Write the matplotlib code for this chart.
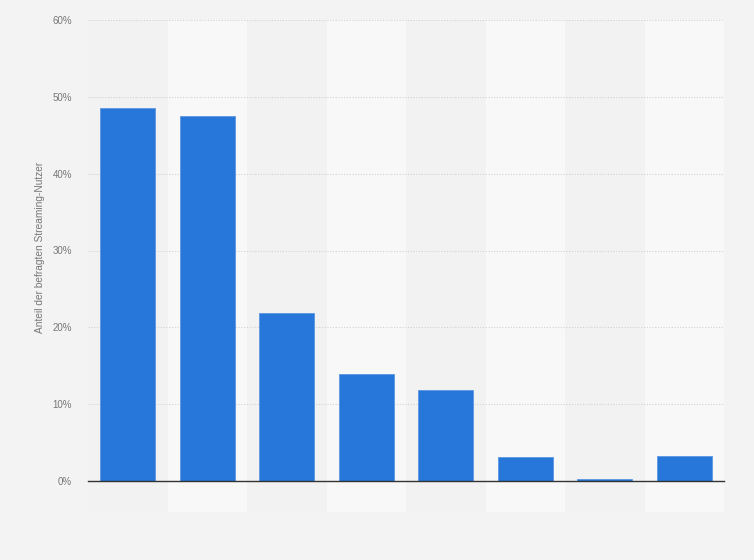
import matplotlib
matplotlib.use("Agg")
import matplotlib.pyplot as plt
from matplotlib.patches import Rectangle
import matplotlib.transforms as mtransforms

plt.rcParams["font.family"] = ["Liberation Sans", "DejaVu Sans"]

# categories are not labelled in the picture
categories = ["", "", "", "", "", "", "", ""]
values = [48.6, 47.5, 21.9, 13.9, 11.9, 3.1, 0.2, 3.3]
yticks = [0, 10, 20, 30, 40, 50, 60]
ytick_labels = ["0%", "10%", "20%", "30%", "40%", "50%", "60%"]

fig = plt.figure(figsize=(7.54, 5.60), dpi=100, facecolor="#f3f3f3")
ax = fig.add_axes([88/754, 79/560, 636/754, 461/560])
ax.set_facecolor("none")

x = list(range(len(values)))
trans = mtransforms.blended_transform_factory(ax.transData, ax.transAxes)
for i in x:
    col = "#f2f2f2" if i % 2 == 0 else "#f8f8f8"
    ax.add_patch(Rectangle((i - 0.5, -0.068), 1, 1.068, transform=trans,
                           facecolor=col, edgecolor="none", zorder=0, clip_on=False))

ax.bar(x, values, width=0.69, color="#2776d9", edgecolor="#5b97e3", linewidth=0.6, zorder=3)

ax.set_xlim(-0.5, len(values) - 0.5)
ax.set_ylim(0, 60)
ax.set_yticks(yticks)
ax.set_yticklabels(ytick_labels, fontsize=7, color="#777777")
ax.set_xticks(x)
ax.set_xticklabels(categories)
ax.tick_params(axis="both", length=0, pad=11.5)
ax.yaxis.grid(True, linestyle=(0, (1, 1.5)), color="#d2d2d2", linewidth=0.8, zorder=1)
for s in ["top", "right", "left"]:
    ax.spines[s].set_visible(False)
ax.spines["bottom"].set_color("#333333")
ax.spines["bottom"].set_linewidth(1.0)
ax.spines["bottom"].set_zorder(4)

fig.text(40/754, 1 - 247/560, "Anteil der befragten Streaming-Nutzer", rotation=90,
         ha="center", va="center", fontsize=7.3, color="#777777")

fig.savefig("out.png", dpi=100, facecolor=fig.get_facecolor())
